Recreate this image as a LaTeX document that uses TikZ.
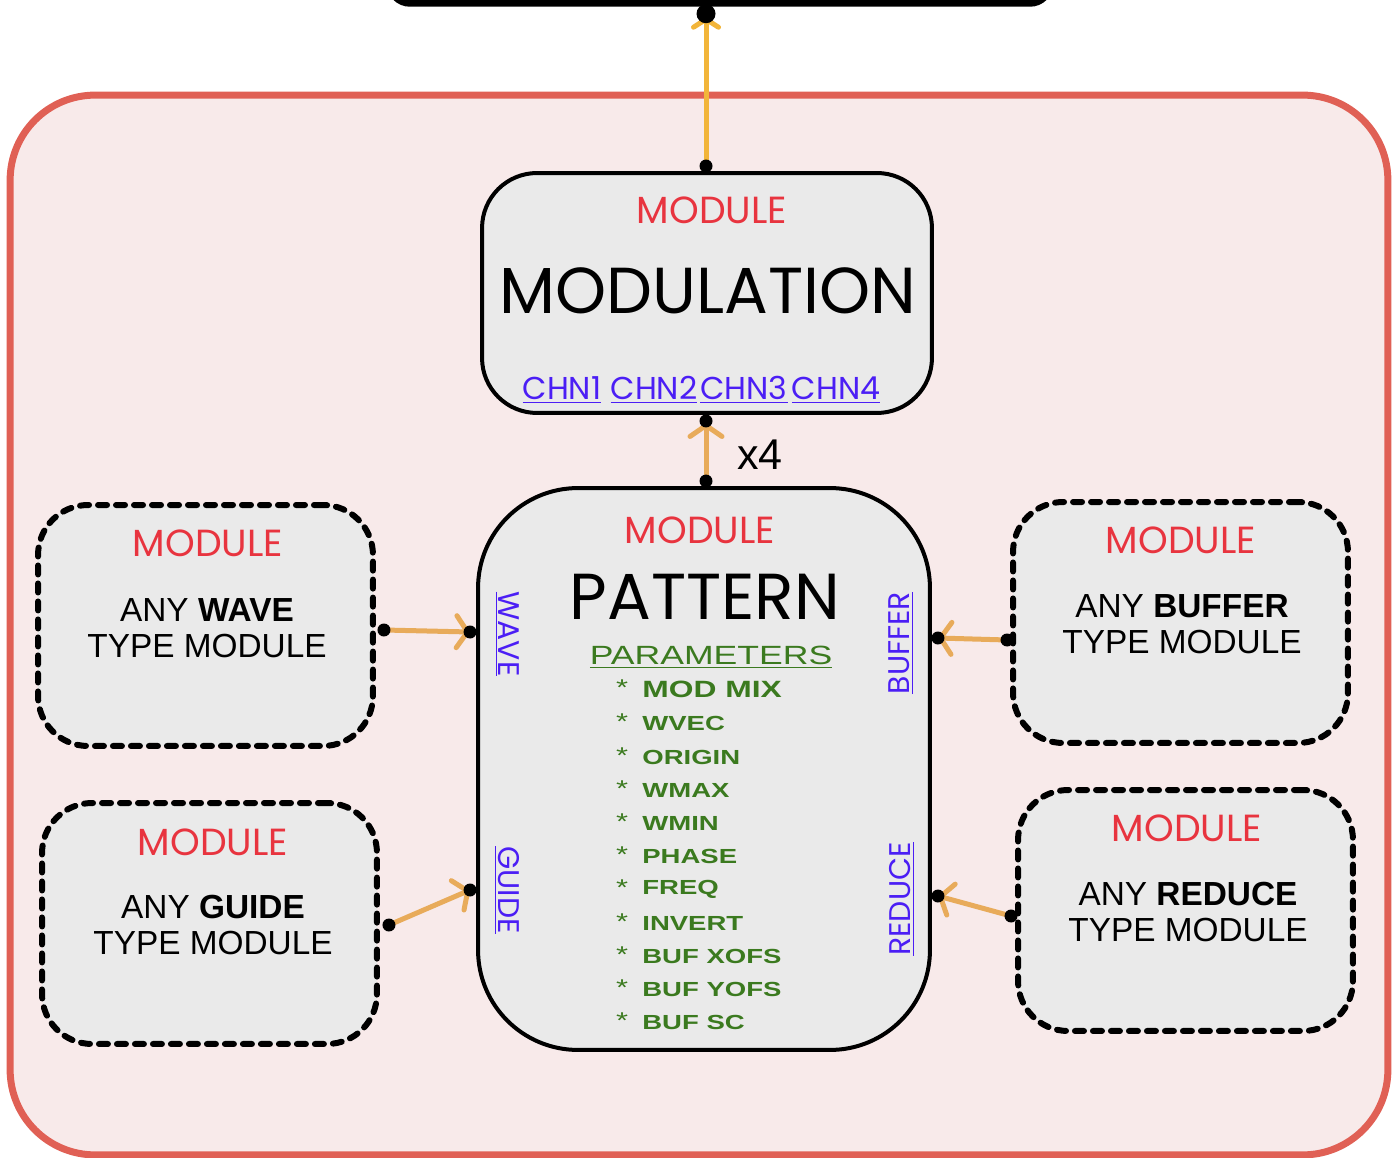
\documentclass[tikz,border=0pt]{standalone}
\usepackage{fontspec}
\setmainfont{Liberation Sans}
\newfontfamily\geofont{Poppins}
\newfontfamily\widefont{Liberation Sans}[FakeStretch=1.35]
\usetikzlibrary{arrows.meta,calc}

\definecolor{bgpink}{HTML}{F8EAEA}
\definecolor{framered}{HTML}{E06055}
\definecolor{boxgray}{HTML}{EAEAEA}
\definecolor{tagred}{HTML}{E8343F}
\definecolor{portblue}{HTML}{4B1EF5}
\definecolor{paramgreen}{HTML}{3B7A1F}
\definecolor{wireamber}{HTML}{F2B53A}
\definecolor{wiretan}{HTML}{E8AB5A}

\newcommand{\fsz}[1]{\fontsize{#1}{1.2\dimexpr#1\relax}\selectfont}

\tikzset{
  groupframe/.style={draw=framered, line width=0.14cm, fill=bgpink,
    rounded corners=1.7cm, inner sep=0pt},
  hostbox/.style={draw=black, line width=0.15cm, fill=white,
    rounded corners=0.4cm, inner sep=0pt},
  solidbox/.style={draw=black, line width=0.08cm, fill=boxgray, inner sep=0pt},
  dashbox/.style={draw=black, line width=0.12cm, fill=boxgray, inner sep=0pt,
    dash pattern=on 0.18cm off 0.18cm, line cap=round, rounded corners=1cm,
    minimum width=6.7cm, minimum height=4.82cm},
  tag/.style={text=tagred, font=\geofont\fsz{21.5pt}, inner sep=0pt},
  title/.style={text=black, font=\geofont\fsz{37pt}, inner sep=0pt},
  chan/.style={text=portblue, font=\geofont\fsz{18pt}, inner sep=0pt},
  sideport/.style={text=portblue, font=\geofont\fsz{17pt}, inner sep=0pt},
  anytext/.style={text=black, font=\fontsize{19pt}{20.5pt}\selectfont, align=center, inner sep=0pt},
  param/.style={text=paramgreen, font=\widefont\bfseries\fsz{11.6pt}, anchor=west, inner sep=0pt},
  star/.style={text=paramgreen, font=\widefont\fsz{13pt}, inner sep=0pt},
  wire/.style={draw=wiretan, line width=0.1cm,
    -{Straight Barb[length=0.22cm, width=0.64cm, round]}},
  topwire/.style={draw=wireamber, line width=0.1cm,
    -{Straight Barb[length=0.16cm, width=0.5cm, round]}},
  portdot/.style={fill=black},
}

\begin{document}
\begin{tikzpicture}[x=0.02cm, y=-0.02cm]
\useasboundingbox (0,0) rectangle (1396,1158);

% enclosing group and the host block above it
\node[groupframe, minimum width=27.56cm, minimum height=21.2cm] (group) at (699,625) {};
\node[hostbox, minimum width=13.2cm, minimum height=1.32cm] (host) at (720,-30) {};

% modulation module
\node[solidbox, rounded corners=1.1cm, minimum width=9cm, minimum height=4.8cm]
  (modulation) at (707,293) {};
\node[tag] (mod-tag) at (712,210) {MODULE};
\node[title] (mod-title) at (708,291) {MODULATION};
\node[chan] (chn1) at (562,390) {\underline{CHN1}};
\node[chan] (chn2) at (654,390) {\underline{CHN2}};
\node[chan] (chn3) at (744,390) {\underline{CHN3}};
\node[chan] (chn4) at (836,390) {\underline{CHN4}};

% pattern module
\node[solidbox, rounded corners=2cm, minimum width=9.04cm, minimum height=11.24cm]
  (pattern) at (704,769) {};
\node[tag] (pat-tag) at (700,530) {MODULE};
\node[title] (pat-title) at (705,597) {PATTERN};
\node[text=paramgreen, font=\widefont\fsz{15pt}, inner sep=0pt] (params) at (711,657)
  {\underline{PARAMETERS}};
\node[star] (star1) at (622,688) {*};
\node[param, font=\widefont\bfseries\fsz{13.4pt}] (param1) at (642,689) {MOD MIX};
\foreach \n/\y/\word in {2/723/WVEC, 3/757/ORIGIN, 4/790/WMAX,
    5/823/WMIN, 6/856/PHASE, 7/889/FREQ, 8/923/INVERT, 9/956/BUF XOFS,
    10/989/BUF YOFS, 11/1022/BUF SC} {
  \node[star] (star\n) at (622,\y-1) {*};
  \node[param] (param\n) at (642,\y) {\word};
}

% input ports of the pattern module
\node[sideport, rotate=-90] (port-wave) at (507,634) {\underline{WAVE}};
\node[sideport, rotate=-90] (port-guide) at (507,890) {\underline{GUIDE}};
\node[sideport, rotate=90] (port-buffer) at (901,643) {\underline{BUFFER}};
\node[sideport, rotate=90] (port-reduce) at (902,899) {\underline{REDUCE}};

% generic source modules
\node[dashbox] (wave) at (205.5,625.5) {};
\node[tag] (wave-tag) at (208,543) {MODULE};
\node[anytext] (wave-text) at (207,628) {ANY \textbf{WAVE}\\TYPE MODULE};

\node[dashbox] (guide) at (209.5,923.5) {};
\node[tag] (guide-tag) at (213,842) {MODULE};
\node[anytext] (guide-text) at (213,925) {ANY \textbf{GUIDE}\\TYPE MODULE};

\node[dashbox] (buffer) at (1180.5,622.5) {};
\node[tag] (buffer-tag) at (1181,540) {MODULE};
\node[anytext] (buffer-text) at (1182,624) {ANY \textbf{BUFFER}\\TYPE MODULE};

\node[dashbox] (reduce) at (1185.5,910.5) {};
\node[tag] (reduce-tag) at (1187,828) {MODULE};
\node[anytext] (reduce-text) at (1188,912) {ANY \textbf{REDUCE}\\TYPE MODULE};

% connection points on the borders
\coordinate (host-in) at ($(host.south)+(-14,7)$);
\coordinate (mod-out) at ($(modulation.north)+(-1,-5)$);
\coordinate (mod-in) at ($(modulation.south)+(-1,6)$);
\coordinate (pat-out) at ($(pattern.north)+(2,-5)$);
\coordinate (pat-wave) at ($(pattern.west)+(-6,-137)$);
\coordinate (pat-guide) at ($(pattern.west)+(-6,121)$);
\coordinate (pat-buffer) at ($(pattern.east)+(6,-131)$);
\coordinate (pat-reduce) at ($(pattern.east)+(6,127)$);
\coordinate (wave-out) at ($(wave.east)+(8,4.5)$);
\coordinate (guide-out) at ($(guide.east)+(9,1.5)$);
\coordinate (buffer-out) at ($(buffer.west)+(-3,17.5)$);
\coordinate (reduce-out) at ($(reduce.west)+(-4,5.5)$);

% connectors
\draw[topwire] (mod-out) -- ($(host-in)+(0,3)$);
\draw[wire] (pat-out) -- ($(mod-in)+(0,2)$);
\node[font=\fsz{24.5pt}, inner sep=0pt] (times) at (760,455) {x4};
\draw[wire] (wave-out) -- (pat-wave);
\draw[wire] (guide-out) -- (pat-guide);
\draw[wire] (buffer-out) -- (pat-buffer);
\draw[wire] (reduce-out) -- (pat-reduce);

% port dots
\fill[portdot] (host-in) circle (0.19cm);
\foreach \p in {mod-out, mod-in, pat-out, pat-wave, pat-guide, pat-buffer,
    pat-reduce, wave-out, guide-out, buffer-out, reduce-out}
  \fill[portdot] (\p) circle (0.13cm);
\end{tikzpicture}
\end{document}
